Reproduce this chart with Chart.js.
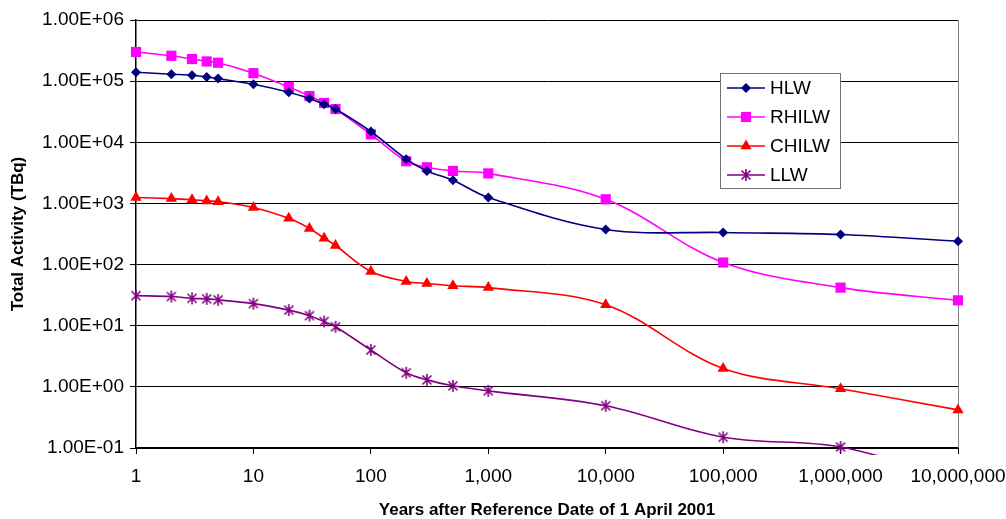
<!DOCTYPE html>
<html>
<head>
<meta charset="utf-8">
<script src="https://cdn.jsdelivr.net/npm/chart.js@4/dist/chart.umd.min.js"></script>
<style>
  html, body { margin: 0; padding: 0; background: #fff; }
  #wrap { width: 1006px; height: 519px; }
</style>
</head>
<body>
<div id="wrap"><canvas id="activityChart" width="1006" height="519"></canvas></div>
<script>
// years after reference date (x values)
const years = [1, 2, 3, 4, 5, 10, 20, 30, 40, 50, 100, 200, 300, 500, 1000, 10000, 100000, 1000000, 10000000];

// total activity, TBq
const hlw   = [1.4e5, 1.3e5, 1.25e5, 1.17e5, 1.1e5, 8.9e4, 6.6e4, 5.2e4, 4.2e4, 3.5e4, 1.5e4, 5.3e3, 3.4e3, 2.4e3, 1.25e3, 375, 335, 310, 240];
const rhilw = [3.0e5, 2.6e5, 2.3e5, 2.1e5, 2.0e5, 1.35e5, 8.0e4, 5.7e4, 4.4e4, 3.5e4, 1.35e4, 4.9e3, 3.9e3, 3.4e3, 3.1e3, 1.17e3, 108, 42, 26];
const chilw = [1.25e3, 1.2e3, 1.15e3, 1.1e3, 1.07e3, 860, 570, 390, 270, 205, 77, 53, 49, 45, 42, 22, 2.0, 0.93, 0.42];
const llw   = [31, 30, 28, 27.5, 26.5, 23, 18, 14.6, 11.7, 9.6, 4.0, 1.7, 1.3, 1.04, 0.86, 0.49, 0.15, 0.104, 0.03];

const seriesNames = ["HLW", "RHILW", "CHILW", "LLW"];
const xTicks = [1, 10, 100, 1000, 10000, 100000, 1000000, 10000000];
const yTicks = [0.1, 1, 10, 100, 1000, 10000, 100000, 1000000];

const FONT = "'Liberation Sans', Arial, sans-serif";

// excel style asterisk marker
function makeAsterisk(color) {
    const c = document.createElement("canvas");
    c.width = 14; c.height = 14;
    const g = c.getContext("2d");
    g.strokeStyle = color;
    g.lineWidth = 1.6;
    g.beginPath();
    g.moveTo(7, 1); g.lineTo(7, 13);
    g.moveTo(2.5, 2.5); g.lineTo(11.5, 11.5);
    g.moveTo(11.5, 2.5); g.lineTo(2.5, 11.5);
    g.stroke();
    return c;
}
const asterisk = makeAsterisk("#800080");

function toPoints(vals) {
    return vals.map((v, i) => ({x: years[i], y: v}));
}

function sciLabel(v) {
    const e = Math.round(Math.log10(v));
    const m = v / Math.pow(10, e);
    const sign = e < 0 ? "-" : "+";
    const ee = String(Math.abs(e)).padStart(2, "0");
    return m.toFixed(2) + "E" + sign + ee;
}

const styles = [
    {color: "#000080", pointStyle: "rectRot", radius: 5},
    {color: "#FF00FF", pointStyle: "rect", radius: 7.2},
    {color: "#FF0000", pointStyle: "triangle", radius: 6.5},
    {color: "#800080", pointStyle: asterisk, radius: 7}
];
const allSeries = [hlw, rhilw, chilw, llw];

const datasets = allSeries.map((vals, i) => ({
    label: seriesNames[i],
    data: toPoints(vals),
    borderColor: styles[i].color,
    backgroundColor: styles[i].color,
    pointBackgroundColor: styles[i].color,
    pointBorderColor: styles[i].color,
    pointStyle: styles[i].pointStyle,
    pointRadius: styles[i].radius,
    pointBorderWidth: 0,
    borderWidth: 1.6,
    tension: 0.35,
    fill: false,
    clip: {left: 6, top: 6, right: 6, bottom: 7}
}));

// legend box drawn inside the plot, like the excel one
const boxLegend = {
    id: "boxLegend",
    afterDraw(chart) {
        const ctx = chart.ctx;
        const x0 = 720.5, y0 = 73.5, w = 120, h = 115;
        ctx.save();
        ctx.fillStyle = "#fff";
        ctx.strokeStyle = "#707070";
        ctx.lineWidth = 1;
        ctx.fillRect(x0, y0, w, h);
        ctx.strokeRect(x0, y0, w, h);
        ctx.font = "19px " + FONT;
        ctx.textBaseline = "middle";
        ctx.textAlign = "left";
        seriesNames.forEach((name, i) => {
            const y = 88 + i * 29;
            ctx.strokeStyle = styles[i].color;
            ctx.lineWidth = 1.6;
            ctx.beginPath();
            ctx.moveTo(727, y);
            ctx.lineTo(765, y);
            ctx.stroke();
            ctx.fillStyle = styles[i].color;
            Chart.helpers.drawPoint(ctx, {pointStyle: styles[i].pointStyle, radius: styles[i].radius, borderWidth: 0}, 746, y);
            ctx.fillStyle = "#000";
            ctx.fillText(name, 770, y + 1);
        });
        ctx.restore();
    }
};

// grey right border of the plot area
const plotBorder = {
    id: "plotBorder",
    beforeDatasetsDraw(chart) {
        const a = chart.chartArea;
        const ctx = chart.ctx;
        ctx.save();
        ctx.strokeStyle = "#808080";
        ctx.lineWidth = 1;
        ctx.beginPath();
        ctx.moveTo(Math.round(a.right) + 0.5, a.top);
        ctx.lineTo(Math.round(a.right) + 0.5, a.bottom);
        ctx.stroke();
        ctx.restore();
    }
};

Chart.defaults.font.family = FONT;
Chart.defaults.color = "#000";

new Chart(document.getElementById("activityChart"), {
    type: "line",
    data: {datasets},
    options: {
        responsive: false,
        animation: false,
        devicePixelRatio: 1,
        layout: {padding: {top: 20, right: 48, left: 0, bottom: 0}},
        plugins: {
            legend: {display: false},
            tooltip: {enabled: false}
        },
        scales: {
            x: {
                type: "logarithmic",
                min: 1,
                max: 10000000,
                afterBuildTicks: scale => { scale.ticks = xTicks.map(v => ({value: v})); },
                afterFit: scale => {
                    scale.height = 71;
                    scale.paddingLeft = 0;
                    scale.paddingRight = 0;
                },
                ticks: {
                    autoSkip: false,
                    maxRotation: 0,
                    padding: 11,
                    font: {size: 19},
                    callback: v => Number(v).toLocaleString("en-US")
                },
                grid: {drawOnChartArea: false, drawTicks: true, tickLength: 6, color: "#000", lineWidth: 1},
                border: {display: true, color: "#000", width: 2},
                title: {
                    display: true,
                    text: "Years after Reference Date of 1 April 2001",
                    font: {size: 17, weight: "bold", lineHeight: 1},
                    padding: {top: 0, bottom: 0}
                }
            },
            y: {
                type: "logarithmic",
                min: 0.1,
                max: 1000000,
                afterBuildTicks: scale => { scale.ticks = yTicks.map(v => ({value: v})); },
                afterFit: scale => {
                    scale.width = 136;
                    scale.paddingTop = 0;
                    scale.paddingBottom = 0;
                },
                ticks: {
                    autoSkip: false,
                    padding: 6,
                    font: {size: 19},
                    callback: v => sciLabel(v)
                },
                grid: {color: "#000", lineWidth: 1, tickLength: 6},
                border: {display: true, color: "#000", width: 1.5},
                title: {
                    display: true,
                    text: "Total Activity (TBq)",
                    font: {size: 17, weight: "bold", lineHeight: 1},
                    padding: {top: 10, bottom: 0}
                }
            }
        }
    },
    plugins: [boxLegend, plotBorder]
});
</script>
</body>
</html>
